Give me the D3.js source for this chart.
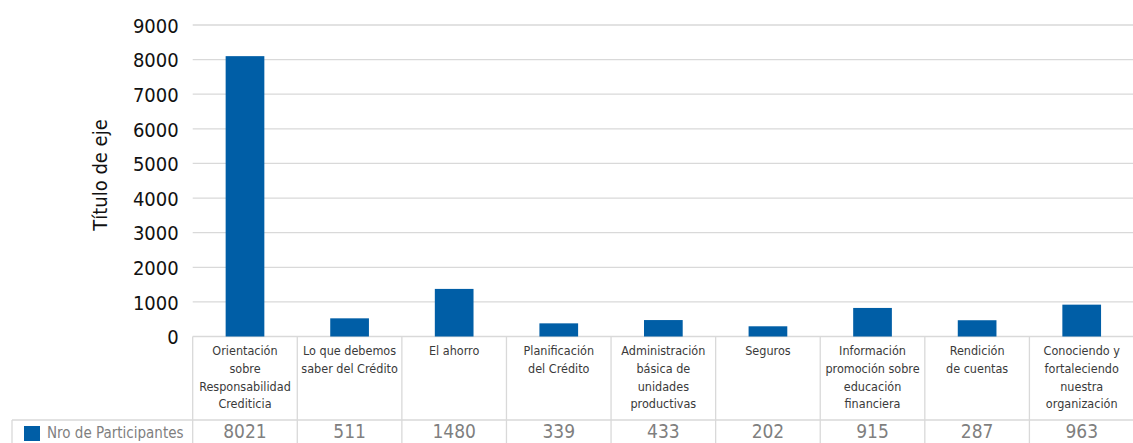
<html>
<head>
<style>
body { margin: 0; background: #fff; }
svg { display: block; }
.tick text { font-family: "Liberation Sans Narrow", "DejaVu Sans Condensed", sans-serif; }
</style>
</head>
<body>
<svg width="1133" height="443"></svg>
<script src="https://d3js.org/d3.v7.min.js"></script>
<script>
// categories (line breaks as in the picture)
const categories = [
  "Orientación\nsobre\nResponsabilidad\nCrediticia",
  "Lo que debemos\nsaber del Crédito",
  "El ahorro",
  "Planificación\ndel Crédito",
  "Administración\nbásica de\nunidades\nproductivas",
  "Seguros",
  "Información\npromoción sobre\neducación\nfinanciera",
  "Rendición\nde cuentas",
  "Conociendo y\nfortaleciendo\nnuestra\norganización"
]
// bar heights as drawn
const barValues = [8100, 525, 1375, 380, 475, 295, 825, 470, 920]
// values printed in the data table
const tableValues = [8021, 511, 1480, 339, 433, 202, 915, 287, 963]
const yTicks = [0, 1000, 2000, 3000, 4000, 5000, 6000, 7000, 8000, 9000]
const seriesName = "Nro de Participantes"
const axisTitle = "Título de eje"

const font = '"Liberation Sans Narrow", "DejaVu Sans Condensed", sans-serif'
const blue = '#005ea6'
const svg = d3.select('svg')

const plotLeft = 192.7, plotRight = 1134, plotTop = 25, plotBottom = 336.5

const cell = d3.scaleBand().domain(categories).range([plotLeft, plotRight])
const x = d3.scaleBand().domain(categories).range([plotLeft, plotRight])
    .paddingInner(0.63).paddingOuter(0.315)
const y = d3.scaleLinear().domain([0, 9000]).range([plotBottom, plotTop])

// gridlines
svg.append('g')
    .selectAll('line')
    .data(yTicks)
    .enter().append('line')
    .attr('x1', plotLeft).attr('x2', plotRight)
    .attr('y1', d => y(d)).attr('y2', d => y(d))
    .attr('stroke', '#d9d9d9').attr('stroke-width', 1.3)

// y axis labels
const yAxis = svg.append('g')
    .attr('transform', `translate(${plotLeft - 14},0)`)
    .call(d3.axisLeft(y).tickValues(yTicks).tickFormat(d3.format('d')).tickSize(0).tickPadding(0))
yAxis.select('.domain').remove()
yAxis.selectAll('text')
    .attr('font-size', 20).attr('fill', '#111').attr('dy', '0.36em')

svg.append('text')
    .attr('transform', 'translate(107,175) rotate(-90)')
    .attr('text-anchor', 'middle')
    .attr('font-family', font).attr('font-size', 20).attr('fill', '#111')
    .text(axisTitle)

// bars
svg.append('g')
    .selectAll('rect')
    .data(categories)
    .enter().append('rect')
    .attr('x', d => x(d))
    .attr('width', x.bandwidth())
    .attr('y', (d, i) => y(barValues[i]))
    .attr('height', (d, i) => plotBottom - y(barValues[i]))
    .attr('fill', blue)

// data table lines
const tbl = svg.append('g').attr('stroke', '#d9d9d9').attr('stroke-width', 1.3)
tbl.append('line').attr('x1', 12).attr('x2', plotRight).attr('y1', 420).attr('y2', 420)
tbl.append('line').attr('x1', 12).attr('x2', 12).attr('y1', 420).attr('y2', 443)
tbl.selectAll('.v')
    .data(categories.concat([null]))
    .enter().append('line')
    .attr('class', 'v')
    .attr('x1', d => d === null ? plotRight : cell(d))
    .attr('x2', d => d === null ? plotRight : cell(d))
    .attr('y1', plotBottom).attr('y2', 443)

// category labels
const labels = svg.append('g')
    .selectAll('text')
    .data(categories)
    .enter().append('text')
    .attr('text-anchor', 'middle')
    .attr('font-family', font).attr('font-size', 12.5).attr('fill', '#3a3a3a')
labels.selectAll('tspan')
    .data(d => d.split('\n').map(t => ({ t: t, c: d })))
    .enter().append('tspan')
    .attr('x', d => cell(d.c) + cell.bandwidth() / 2)
    .attr('y', (d, i) => 355 + i * 17.8)
    .text(d => d.t)

// legend key + series name
svg.append('rect').attr('x', 24).attr('y', 426).attr('width', 16).attr('height', 15).attr('fill', blue)
svg.append('text')
    .attr('x', 47).attr('y', 438)
    .attr('font-family', font).attr('font-size', 15).attr('fill', '#7f7f7f')
    .text(seriesName)

// table values
svg.append('g')
    .selectAll('text')
    .data(categories)
    .enter().append('text')
    .attr('x', d => cell(d) + cell.bandwidth() / 2)
    .attr('y', 438)
    .attr('text-anchor', 'middle')
    .attr('font-family', font).attr('font-size', 19).attr('fill', '#7f7f7f')
    .text((d, i) => tableValues[i])
</script>
</body>
</html>
